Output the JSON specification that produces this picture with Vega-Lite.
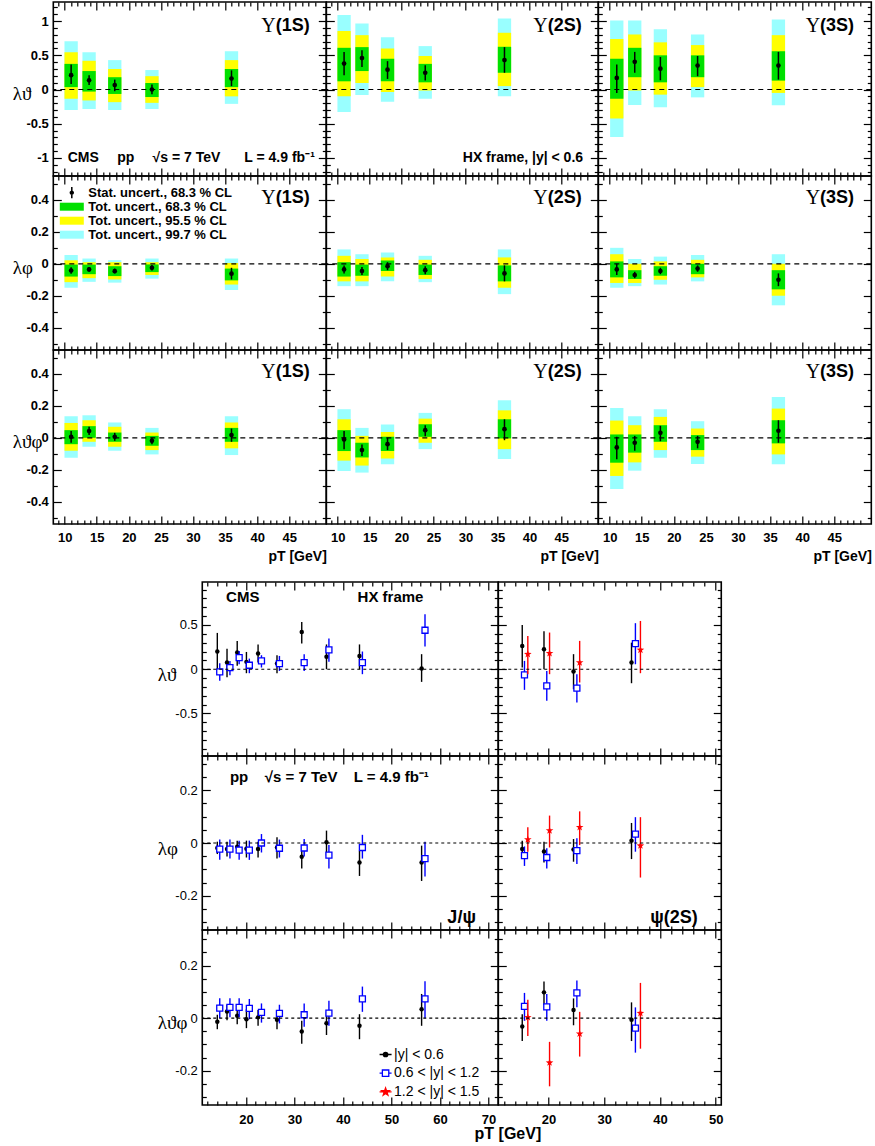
{
"$schema": "https://vega.github.io/schema/vega-lite/v6.json",
"background": "white",
"autosize": {"type": "pad"},
"padding": {"left": 11, "top": 0, "right": 4, "bottom": 5},
"config": {
  "view": {"stroke": "#000", "strokeWidth": 1.6},
  "axis": {"domain": false, "grid": false, "tickColor": "#000", "tickWidth": 1.2, "labelFont": "Liberation Sans", "labelFontWeight": "bold", "labelFontSize": 13, "labelColor": "#000", "titleFont": "Liberation Serif", "titleFontWeight": "normal", "titleFontSize": 19, "titleColor": "#000", "minExtent": 0, "labelFlush": false, "labelOverlap": false, "labelBound": false, "titleAngle": 0},
  "text": {"font": "Liberation Sans", "fontWeight": "bold", "color": "#000"}
},
"datasets": {
  "u1th": [
    {"pt":11,"v":0.21,"slo":0.08,"shi":0.365,"glo":0.035,"ghi":0.375,"ylo":-0.135,"yhi":0.545,"clo":-0.3,"chi":0.705},
    {"pt":13.8,"v":0.135,"slo":0.065,"shi":0.21,"glo":-0.03,"ghi":0.27,"ylo":-0.16,"yhi":0.42,"clo":-0.285,"chi":0.545},
    {"pt":17.8,"v":0.065,"slo":-0.025,"shi":0.145,"glo":-0.065,"ghi":0.18,"ylo":-0.185,"yhi":0.3,"clo":-0.3,"chi":0.43},
    {"pt":23.6,"v":0.0,"slo":-0.07,"shi":0.075,"glo":-0.11,"ghi":0.095,"ylo":-0.195,"yhi":0.195,"clo":-0.285,"chi":0.285},
    {"pt":36,"v":0.16,"slo":0.05,"shi":0.28,"glo":0.035,"ghi":0.3,"ylo":-0.1,"yhi":0.43,"clo":-0.21,"chi":0.56}
  ],
  "u2th": [
    {"pt":11,"v":0.38,"slo":0.21,"shi":0.55,"glo":0.12,"ghi":0.61,"ylo":-0.1,"yhi":0.855,"clo":-0.33,"chi":1.09},
    {"pt":13.8,"v":0.46,"slo":0.33,"shi":0.575,"glo":0.27,"ghi":0.62,"ylo":0.095,"yhi":0.795,"clo":-0.08,"chi":0.965},
    {"pt":17.8,"v":0.29,"slo":0.155,"shi":0.415,"glo":0.12,"ghi":0.45,"ylo":-0.035,"yhi":0.6,"clo":-0.18,"chi":0.765},
    {"pt":23.7,"v":0.245,"slo":0.13,"shi":0.355,"glo":0.105,"ghi":0.375,"ylo":-0.015,"yhi":0.49,"clo":-0.135,"chi":0.635},
    {"pt":36.1,"v":0.43,"slo":0.245,"shi":0.62,"glo":0.245,"ghi":0.625,"ylo":0.05,"yhi":0.83,"clo":-0.1,"chi":1.04}
  ],
  "u3th": [
    {"pt":11.1,"v":0.17,"slo":-0.05,"shi":0.365,"glo":-0.135,"ghi":0.45,"ylo":-0.425,"yhi":0.74,"clo":-0.695,"chi":1.01},
    {"pt":13.9,"v":0.405,"slo":0.245,"shi":0.55,"glo":0.18,"ghi":0.61,"ylo":-0.015,"yhi":0.805,"clo":-0.225,"chi":1.01},
    {"pt":17.9,"v":0.305,"slo":0.135,"shi":0.475,"glo":0.105,"ghi":0.5,"ylo":-0.075,"yhi":0.69,"clo":-0.26,"chi":0.88},
    {"pt":23.7,"v":0.35,"slo":0.195,"shi":0.49,"glo":0.18,"ghi":0.5,"ylo":0.035,"yhi":0.65,"clo":-0.115,"chi":0.805},
    {"pt":36.3,"v":0.35,"slo":0.145,"shi":0.55,"glo":0.13,"ghi":0.56,"ylo":-0.05,"yhi":0.795,"clo":-0.23,"chi":1.025}
  ],
  "u1ph": [
    {"pt":11,"v":-0.042,"slo":-0.062,"shi":-0.022,"glo":-0.08,"ghi":-0.005,"ylo":-0.115,"yhi":0.022,"clo":-0.15,"chi":0.055},
    {"pt":13.8,"v":-0.035,"slo":-0.05,"shi":-0.02,"glo":-0.065,"ghi":-0.005,"ylo":-0.09,"yhi":0.01,"clo":-0.113,"chi":0.033},
    {"pt":17.8,"v":-0.046,"slo":-0.06,"shi":-0.03,"glo":-0.077,"ghi":-0.015,"ylo":-0.098,"yhi":0.01,"clo":-0.118,"chi":0.023},
    {"pt":23.6,"v":-0.025,"slo":-0.042,"shi":-0.008,"glo":-0.052,"ghi":-0.004,"ylo":-0.07,"yhi":0.01,"clo":-0.093,"chi":0.033},
    {"pt":36,"v":-0.062,"slo":-0.098,"shi":-0.025,"glo":-0.104,"ghi":-0.03,"ylo":-0.13,"yhi":0.005,"clo":-0.164,"chi":0.033}
  ],
  "u2ph": [
    {"pt":11,"v":-0.035,"slo":-0.06,"shi":-0.01,"glo":-0.08,"ghi":0.01,"ylo":-0.11,"yhi":0.05,"clo":-0.14,"chi":0.09},
    {"pt":13.8,"v":-0.045,"slo":-0.07,"shi":-0.02,"glo":-0.075,"ghi":-0.005,"ylo":-0.11,"yhi":0.03,"clo":-0.14,"chi":0.06},
    {"pt":17.8,"v":-0.015,"slo":-0.04,"shi":0.01,"glo":-0.045,"ghi":0.02,"ylo":-0.08,"yhi":0.04,"clo":-0.11,"chi":0.07},
    {"pt":23.7,"v":-0.04,"slo":-0.065,"shi":-0.015,"glo":-0.07,"ghi":-0.005,"ylo":-0.095,"yhi":0.025,"clo":-0.115,"chi":0.05},
    {"pt":36.1,"v":-0.06,"slo":-0.11,"shi":-0.01,"glo":-0.11,"ghi":-0.01,"ylo":-0.15,"yhi":0.04,"clo":-0.19,"chi":0.09}
  ],
  "u3ph": [
    {"pt":11.1,"v":-0.035,"slo":-0.07,"shi":0.0,"glo":-0.085,"ghi":0.015,"ylo":-0.12,"yhi":0.06,"clo":-0.15,"chi":0.1},
    {"pt":13.9,"v":-0.07,"slo":-0.09,"shi":-0.05,"glo":-0.095,"ghi":-0.04,"ylo":-0.12,"yhi":0.0,"clo":-0.14,"chi":0.03},
    {"pt":17.9,"v":-0.045,"slo":-0.065,"shi":-0.025,"glo":-0.075,"ghi":-0.015,"ylo":-0.1,"yhi":0.015,"clo":-0.13,"chi":0.045},
    {"pt":23.7,"v":-0.03,"slo":-0.05,"shi":-0.01,"glo":-0.065,"ghi":0.0,"ylo":-0.085,"yhi":0.025,"clo":-0.11,"chi":0.055},
    {"pt":36.3,"v":-0.1,"slo":-0.14,"shi":-0.06,"glo":-0.16,"ghi":-0.04,"ylo":-0.2,"yhi":0.0,"clo":-0.26,"chi":0.06}
  ],
  "u1tp": [
    {"pt":11,"v":0.006,"slo":-0.031,"shi":0.042,"glo":-0.04,"ghi":0.048,"ylo":-0.081,"yhi":0.093,"clo":-0.125,"chi":0.135},
    {"pt":13.8,"v":0.042,"slo":0.017,"shi":0.069,"glo":0.0,"ghi":0.073,"ylo":-0.025,"yhi":0.11,"clo":-0.056,"chi":0.141},
    {"pt":17.8,"v":0.006,"slo":-0.019,"shi":0.031,"glo":-0.025,"ghi":0.033,"ylo":-0.056,"yhi":0.069,"clo":-0.081,"chi":0.096},
    {"pt":23.6,"v":-0.019,"slo":-0.04,"shi":0.0,"glo":-0.05,"ghi":0.012,"ylo":-0.077,"yhi":0.033,"clo":-0.104,"chi":0.062},
    {"pt":36,"v":0.017,"slo":-0.025,"shi":0.058,"glo":-0.025,"ghi":0.062,"ylo":-0.066,"yhi":0.096,"clo":-0.108,"chi":0.135}
  ],
  "u2tp": [
    {"pt":11,"v":-0.01,"slo":-0.071,"shi":0.042,"glo":-0.083,"ghi":0.048,"ylo":-0.143,"yhi":0.116,"clo":-0.208,"chi":0.179},
    {"pt":13.8,"v":-0.077,"slo":-0.114,"shi":-0.042,"glo":-0.123,"ghi":-0.031,"ylo":-0.174,"yhi":0.012,"clo":-0.218,"chi":0.062},
    {"pt":17.8,"v":-0.04,"slo":-0.077,"shi":0.0,"glo":-0.083,"ghi":0.006,"ylo":-0.129,"yhi":0.037,"clo":-0.166,"chi":0.083},
    {"pt":23.7,"v":0.048,"slo":0.01,"shi":0.079,"glo":0.006,"ghi":0.085,"ylo":-0.031,"yhi":0.12,"clo":-0.071,"chi":0.156},
    {"pt":36.1,"v":0.054,"slo":-0.015,"shi":0.116,"glo":-0.004,"ghi":0.116,"ylo":-0.071,"yhi":0.172,"clo":-0.133,"chi":0.235}
  ],
  "u3tp": [
    {"pt":11.1,"v":-0.06,"slo":-0.135,"shi":0.006,"glo":-0.156,"ghi":0.021,"ylo":-0.239,"yhi":0.108,"clo":-0.32,"chi":0.187},
    {"pt":13.9,"v":-0.031,"slo":-0.081,"shi":0.012,"glo":-0.093,"ghi":0.021,"ylo":-0.154,"yhi":0.079,"clo":-0.206,"chi":0.135},
    {"pt":17.9,"v":0.031,"slo":-0.021,"shi":0.075,"glo":-0.025,"ghi":0.079,"ylo":-0.077,"yhi":0.131,"clo":-0.125,"chi":0.179},
    {"pt":23.7,"v":-0.025,"slo":-0.066,"shi":0.012,"glo":-0.077,"ghi":0.017,"ylo":-0.118,"yhi":0.058,"clo":-0.164,"chi":0.104},
    {"pt":36.3,"v":0.044,"slo":-0.031,"shi":0.11,"glo":-0.035,"ghi":0.11,"ylo":-0.104,"yhi":0.183,"clo":-0.166,"chi":0.255}
  ],
  "jth": [
    {"b":"0-0.6","pt":14.1,"v":0.2,"lo":-0.04,"hi":0.41},
    {"b":"0-0.6","pt":16.1,"v":0.075,"lo":-0.09,"hi":0.23},
    {"b":"0-0.6","pt":18.2,"v":0.19,"lo":0.04,"hi":0.32},
    {"b":"0-0.6","pt":20.1,"v":0.083,"lo":-0.045,"hi":0.195},
    {"b":"0-0.6","pt":22.5,"v":0.177,"lo":0.075,"hi":0.28},
    {"b":"0-0.6","pt":26.4,"v":0.064,"lo":-0.045,"hi":0.158},
    {"b":"0-0.6","pt":31.5,"v":0.42,"lo":0.29,"hi":0.534},
    {"b":"0-0.6","pt":36.6,"v":0.14,"lo":0.0,"hi":0.28},
    {"b":"0-0.6","pt":43.4,"v":0.15,"lo":0.0,"hi":0.28},
    {"b":"0-0.6","pt":56.2,"v":0.008,"lo":-0.143,"hi":0.17},
    {"b":"0.6-1.2","pt":14.6,"v":-0.03,"lo":-0.13,"hi":0.068},
    {"b":"0.6-1.2","pt":16.7,"v":0.019,"lo":-0.068,"hi":0.094},
    {"b":"0.6-1.2","pt":18.6,"v":0.13,"lo":0.056,"hi":0.207},
    {"b":"0.6-1.2","pt":20.7,"v":0.045,"lo":-0.045,"hi":0.12},
    {"b":"0.6-1.2","pt":23.2,"v":0.094,"lo":0.019,"hi":0.158},
    {"b":"0.6-1.2","pt":26.9,"v":0.064,"lo":-0.019,"hi":0.15},
    {"b":"0.6-1.2","pt":32.0,"v":0.075,"lo":-0.019,"hi":0.17},
    {"b":"0.6-1.2","pt":37.1,"v":0.218,"lo":0.083,"hi":0.346},
    {"b":"0.6-1.2","pt":44.0,"v":0.075,"lo":-0.056,"hi":0.2},
    {"b":"0.6-1.2","pt":56.9,"v":0.44,"lo":0.256,"hi":0.62}
  ],
  "jph": [
    {"b":"0-0.6","pt":14.1,"v":-0.019,"lo":-0.042,"hi":0.005},
    {"b":"0-0.6","pt":16.1,"v":-0.023,"lo":-0.051,"hi":0.005},
    {"b":"0-0.6","pt":18.2,"v":-0.014,"lo":-0.036,"hi":0.009},
    {"b":"0-0.6","pt":20.1,"v":-0.022,"lo":-0.055,"hi":0.009},
    {"b":"0-0.6","pt":22.5,"v":-0.023,"lo":-0.055,"hi":0.005},
    {"b":"0-0.6","pt":26.4,"v":-0.017,"lo":-0.059,"hi":0.022},
    {"b":"0-0.6","pt":31.5,"v":-0.052,"lo":-0.097,"hi":-0.017},
    {"b":"0-0.6","pt":36.6,"v":0.003,"lo":-0.048,"hi":0.047},
    {"b":"0-0.6","pt":43.4,"v":-0.074,"lo":-0.125,"hi":-0.029},
    {"b":"0-0.6","pt":56.2,"v":-0.074,"lo":-0.144,"hi":-0.01},
    {"b":"0.6-1.2","pt":14.6,"v":-0.023,"lo":-0.064,"hi":0.013},
    {"b":"0.6-1.2","pt":16.7,"v":-0.023,"lo":-0.059,"hi":0.013},
    {"b":"0.6-1.2","pt":18.6,"v":-0.027,"lo":-0.064,"hi":0.009},
    {"b":"0.6-1.2","pt":20.7,"v":-0.027,"lo":-0.064,"hi":0.009},
    {"b":"0.6-1.2","pt":23.2,"v":0.0,"lo":-0.036,"hi":0.034},
    {"b":"0.6-1.2","pt":26.9,"v":-0.02,"lo":-0.055,"hi":0.013},
    {"b":"0.6-1.2","pt":32.0,"v":-0.019,"lo":-0.051,"hi":0.015},
    {"b":"0.6-1.2","pt":37.1,"v":-0.046,"lo":-0.097,"hi":-0.008},
    {"b":"0.6-1.2","pt":44.0,"v":-0.017,"lo":-0.059,"hi":0.031},
    {"b":"0.6-1.2","pt":56.9,"v":-0.059,"lo":-0.127,"hi":0.005}
  ],
  "jtp": [
    {"b":"0-0.6","pt":14.1,"v":-0.014,"lo":-0.042,"hi":0.013},
    {"b":"0-0.6","pt":16.1,"v":0.025,"lo":-0.008,"hi":0.051},
    {"b":"0-0.6","pt":18.2,"v":0.009,"lo":-0.023,"hi":0.041},
    {"b":"0-0.6","pt":20.1,"v":-0.004,"lo":-0.038,"hi":0.034},
    {"b":"0-0.6","pt":22.5,"v":0.003,"lo":-0.029,"hi":0.031},
    {"b":"0-0.6","pt":26.4,"v":-0.006,"lo":-0.042,"hi":0.022},
    {"b":"0-0.6","pt":31.5,"v":-0.051,"lo":-0.097,"hi":-0.01},
    {"b":"0-0.6","pt":36.6,"v":-0.019,"lo":-0.064,"hi":0.022},
    {"b":"0-0.6","pt":43.4,"v":-0.029,"lo":-0.08,"hi":0.015},
    {"b":"0-0.6","pt":56.2,"v":0.034,"lo":-0.029,"hi":0.092},
    {"b":"0.6-1.2","pt":14.6,"v":0.038,"lo":0.0,"hi":0.076},
    {"b":"0.6-1.2","pt":16.7,"v":0.041,"lo":0.003,"hi":0.076},
    {"b":"0.6-1.2","pt":18.6,"v":0.041,"lo":0.003,"hi":0.076},
    {"b":"0.6-1.2","pt":20.7,"v":0.037,"lo":-0.004,"hi":0.073},
    {"b":"0.6-1.2","pt":23.2,"v":0.022,"lo":-0.017,"hi":0.056},
    {"b":"0.6-1.2","pt":26.9,"v":0.018,"lo":-0.02,"hi":0.051},
    {"b":"0.6-1.2","pt":32.0,"v":0.013,"lo":-0.033,"hi":0.056},
    {"b":"0.6-1.2","pt":37.1,"v":0.019,"lo":-0.029,"hi":0.066},
    {"b":"0.6-1.2","pt":44.0,"v":0.073,"lo":0.024,"hi":0.12},
    {"b":"0.6-1.2","pt":56.9,"v":0.073,"lo":0.0,"hi":0.14}
  ],
  "pth": [
    {"b":"0-0.6","pt":15.3,"v":0.263,"lo":0.019,"hi":0.5},
    {"b":"0-0.6","pt":19.2,"v":0.226,"lo":0.0,"hi":0.43},
    {"b":"0-0.6","pt":24.5,"v":-0.026,"lo":-0.226,"hi":0.17},
    {"b":"0-0.6","pt":34.9,"v":0.075,"lo":-0.158,"hi":0.3},
    {"b":"0.6-1.2","pt":15.7,"v":-0.064,"lo":-0.233,"hi":0.094},
    {"b":"0.6-1.2","pt":19.7,"v":-0.188,"lo":-0.357,"hi":-0.019},
    {"b":"0.6-1.2","pt":25.1,"v":-0.214,"lo":-0.376,"hi":-0.056},
    {"b":"0.6-1.2","pt":35.6,"v":0.29,"lo":0.056,"hi":0.52},
    {"b":"1.2-1.5","pt":16.3,"v":0.17,"lo":-0.056,"hi":0.376},
    {"b":"1.2-1.5","pt":20.2,"v":0.18,"lo":-0.056,"hi":0.414},
    {"b":"1.2-1.5","pt":25.6,"v":0.075,"lo":-0.15,"hi":0.32},
    {"b":"1.2-1.5","pt":36.5,"v":0.218,"lo":-0.045,"hi":0.545}
  ],
  "pph": [
    {"b":"0-0.6","pt":15.3,"v":-0.023,"lo":-0.048,"hi":0.009},
    {"b":"0-0.6","pt":19.2,"v":-0.032,"lo":-0.074,"hi":0.005},
    {"b":"0-0.6","pt":24.5,"v":-0.025,"lo":-0.071,"hi":0.015},
    {"b":"0-0.6","pt":34.9,"v":0.009,"lo":-0.061,"hi":0.076},
    {"b":"0.6-1.2","pt":15.7,"v":-0.048,"lo":-0.087,"hi":-0.013},
    {"b":"0.6-1.2","pt":19.7,"v":-0.055,"lo":-0.097,"hi":-0.02},
    {"b":"0.6-1.2","pt":25.1,"v":-0.029,"lo":-0.08,"hi":0.018},
    {"b":"0.6-1.2","pt":35.6,"v":0.034,"lo":-0.033,"hi":0.098},
    {"b":"1.2-1.5","pt":16.3,"v":0.013,"lo":-0.033,"hi":0.06},
    {"b":"1.2-1.5","pt":20.2,"v":0.047,"lo":-0.017,"hi":0.104},
    {"b":"1.2-1.5","pt":25.6,"v":0.06,"lo":-0.008,"hi":0.12},
    {"b":"1.2-1.5","pt":36.5,"v":-0.01,"lo":-0.131,"hi":0.098}
  ],
  "ptp": [
    {"b":"0-0.6","pt":15.3,"v":-0.032,"lo":-0.087,"hi":0.015},
    {"b":"0-0.6","pt":19.2,"v":0.098,"lo":0.05,"hi":0.139},
    {"b":"0-0.6","pt":24.5,"v":0.031,"lo":-0.027,"hi":0.075},
    {"b":"0-0.6","pt":34.9,"v":-0.006,"lo":-0.087,"hi":0.06},
    {"b":"0.6-1.2","pt":15.7,"v":0.045,"lo":-0.01,"hi":0.096},
    {"b":"0.6-1.2","pt":19.7,"v":0.043,"lo":-0.01,"hi":0.092},
    {"b":"0.6-1.2","pt":25.1,"v":0.096,"lo":0.041,"hi":0.143},
    {"b":"0.6-1.2","pt":35.6,"v":-0.038,"lo":-0.131,"hi":0.041},
    {"b":"1.2-1.5","pt":16.3,"v":0.003,"lo":-0.068,"hi":0.07},
    {"b":"1.2-1.5","pt":20.2,"v":-0.169,"lo":-0.259,"hi":-0.09},
    {"b":"1.2-1.5","pt":25.6,"v":-0.059,"lo":-0.146,"hi":0.024},
    {"b":"1.2-1.5","pt":36.5,"v":0.019,"lo":-0.116,"hi":0.134}
  ]
},
"spacing": 16,
"center": true,
"resolve": {"scale": {"fill": "independent", "stroke": "independent", "shape": "independent"}},
"vconcat": [
{
"columns": 3, "spacing": 0, "bounds": "flush",
"resolve": {"scale": {"fill": "independent", "stroke": "independent", "shape": "independent"}},
"concat": [
  {
   "width": 273, "height": 174,
   "resolve": {"axis": {"x": "independent", "y": "independent"}},
   "layer": [
    {"data": {"name": "u1th"}, "mark": {"type": "bar", "width": 13.3, "color": "#99ffff"},
     "encoding": {
      "x": {"field": "pt", "type": "quantitative", "scale": {"domain": [9, 50], "nice": false, "zero": false}, "axis": {"orient": "bottom", "values": [10,15,20,25,30,35,40,45], "tickSize": -8, "labels": false, "title": null}},
      "y": {"field": "clo", "type": "quantitative", "scale": {"domain": [-1.265, 1.28], "nice": false, "zero": false}, "axis": {"orient": "left", "values": [-1,-0.5,0,0.5,1], "tickSize": -8, "labelPadding": 13, "labelExpr": "'' + datum.value", "title": "λϑ", "titleX": -41, "titleY": 91, "titleAlign": "left", "titleBaseline": "middle"}},
      "y2": {"field": "chi"}}},
    {"data": {"name": "u1th"}, "mark": {"type": "bar", "width": 13.3, "color": "#ffff00"},
     "encoding": {
      "x": {"field": "pt", "type": "quantitative", "axis": {"orient": "bottom", "values": [9,11,12,13,14,16,17,18,19,21,22,23,24,26,27,28,29,31,32,33,34,36,37,38,39,41,42,43,44,46,47,48,49], "tickSize": -4, "labels": false, "title": null}},
      "y": {"field": "ylo", "type": "quantitative", "axis": {"orient": "left", "values": [-1.2,-1.1,-0.9,-0.8,-0.7,-0.6,-0.4,-0.3,-0.2,-0.1,0.1,0.2,0.3,0.4,0.6,0.7,0.8,0.9,1.1,1.2], "tickSize": -4, "labels": false, "title": null}},
      "y2": {"field": "yhi"}}},
    {"data": {"name": "u1th"}, "mark": {"type": "bar", "width": 13.3, "color": "#00e000"},
     "encoding": {
      "x": {"field": "pt", "type": "quantitative", "axis": {"orient": "top", "values": [10,15,20,25,30,35,40,45], "tickSize": -8, "labels": false, "title": null}},
      "y": {"field": "glo", "type": "quantitative", "axis": {"orient": "right", "values": [-1,-0.5,0,0.5,1], "tickSize": -8, "labels": false, "title": null}},
      "y2": {"field": "ghi"}}},
    {"data": {"name": "u1th"}, "mark": {"type": "rule", "color": "#000", "strokeWidth": 1.5},
     "encoding": {
      "x": {"field": "pt", "type": "quantitative", "axis": {"orient": "top", "values": [9,11,12,13,14,16,17,18,19,21,22,23,24,26,27,28,29,31,32,33,34,36,37,38,39,41,42,43,44,46,47,48,49], "tickSize": -4, "labels": false, "title": null}},
      "y": {"field": "slo", "type": "quantitative", "axis": {"orient": "right", "values": [-1.2,-1.1,-0.9,-0.8,-0.7,-0.6,-0.4,-0.3,-0.2,-0.1,0.1,0.2,0.3,0.4,0.6,0.7,0.8,0.9,1.1,1.2], "tickSize": -4, "labels": false, "title": null}},
      "y2": {"field": "shi"}}},
    {"data": {"name": "u1th"}, "mark": {"type": "point", "shape": "circle", "filled": true, "color": "#000", "size": 22, "opacity": 1},
     "encoding": {"x": {"field": "pt", "type": "quantitative", "axis": null}, "y": {"field": "v", "type": "quantitative", "axis": null}}},
    {"data": {"values": [{}]}, "mark": {"type": "rule", "color": "#000", "strokeWidth": 1.2, "strokeDash": [5, 4]},
     "encoding": {"y": {"datum": 0, "type": "quantitative", "axis": null}}},
    {"data": {"values": [{}]}, "mark": {"type": "text", "text": "(1S)", "align": "right", "baseline": "middle", "fontSize": 18},
     "encoding": {"x": {"datum": 48.2, "type": "quantitative", "axis": null}, "y": {"datum": 0.93, "type": "quantitative", "axis": null}}},
    {"data": {"values": [{}]}, "mark": {"type": "text", "text": "Υ", "align": "right", "baseline": "middle", "fontSize": 20, "font": "Liberation Serif", "fontWeight": "normal", "dx": -34},
     "encoding": {"x": {"datum": 48.2, "type": "quantitative", "axis": null}, "y": {"datum": 0.93, "type": "quantitative", "axis": null}}},
    {"data": {"values": [{}]}, "mark": {"type": "text", "text": "CMS", "align": "left", "baseline": "middle", "fontSize": 14},
     "encoding": {"x": {"datum": 10.46, "type": "quantitative", "axis": null}, "y": {"datum": -1.0, "type": "quantitative", "axis": null}}},
    {"data": {"values": [{}]}, "mark": {"type": "text", "text": "pp", "align": "left", "baseline": "middle", "fontSize": 14},
     "encoding": {"x": {"datum": 18.2, "type": "quantitative", "axis": null}, "y": {"datum": -1.0, "type": "quantitative", "axis": null}}},
    {"data": {"values": [{}]}, "mark": {"type": "text", "text": "√s = 7 TeV", "align": "left", "baseline": "middle", "fontSize": 14},
     "encoding": {"x": {"datum": 23.7, "type": "quantitative", "axis": null}, "y": {"datum": -1.0, "type": "quantitative", "axis": null}}},
    {"data": {"values": [{}]}, "mark": {"type": "text", "text": "L = 4.9 fb⁻¹", "align": "left", "baseline": "middle", "fontSize": 14},
     "encoding": {"x": {"datum": 38.0, "type": "quantitative", "axis": null}, "y": {"datum": -1.0, "type": "quantitative", "axis": null}}}
   ]
  },
  {
   "width": 272, "height": 174,
   "resolve": {"axis": {"x": "independent", "y": "independent"}},
   "layer": [
    {"data": {"name": "u2th"}, "mark": {"type": "bar", "width": 13.3, "color": "#99ffff"},
     "encoding": {
      "x": {"field": "pt", "type": "quantitative", "scale": {"domain": [9, 50], "nice": false, "zero": false}, "axis": {"orient": "bottom", "values": [10,15,20,25,30,35,40,45], "tickSize": -8, "labels": false, "title": null}},
      "y": {"field": "clo", "type": "quantitative", "scale": {"domain": [-1.265, 1.28], "nice": false, "zero": false}, "axis": {"orient": "left", "values": [-1,-0.5,0,0.5,1], "tickSize": -8, "labels": false, "title": null}},
      "y2": {"field": "chi"}}},
    {"data": {"name": "u2th"}, "mark": {"type": "bar", "width": 13.3, "color": "#ffff00"},
     "encoding": {
      "x": {"field": "pt", "type": "quantitative", "axis": {"orient": "bottom", "values": [9,11,12,13,14,16,17,18,19,21,22,23,24,26,27,28,29,31,32,33,34,36,37,38,39,41,42,43,44,46,47,48,49], "tickSize": -4, "labels": false, "title": null}},
      "y": {"field": "ylo", "type": "quantitative", "axis": {"orient": "left", "values": [-1.2,-1.1,-0.9,-0.8,-0.7,-0.6,-0.4,-0.3,-0.2,-0.1,0.1,0.2,0.3,0.4,0.6,0.7,0.8,0.9,1.1,1.2], "tickSize": -4, "labels": false, "title": null}},
      "y2": {"field": "yhi"}}},
    {"data": {"name": "u2th"}, "mark": {"type": "bar", "width": 13.3, "color": "#00e000"},
     "encoding": {
      "x": {"field": "pt", "type": "quantitative", "axis": {"orient": "top", "values": [10,15,20,25,30,35,40,45], "tickSize": -8, "labels": false, "title": null}},
      "y": {"field": "glo", "type": "quantitative", "axis": {"orient": "right", "values": [-1,-0.5,0,0.5,1], "tickSize": -8, "labels": false, "title": null}},
      "y2": {"field": "ghi"}}},
    {"data": {"name": "u2th"}, "mark": {"type": "rule", "color": "#000", "strokeWidth": 1.5},
     "encoding": {
      "x": {"field": "pt", "type": "quantitative", "axis": {"orient": "top", "values": [9,11,12,13,14,16,17,18,19,21,22,23,24,26,27,28,29,31,32,33,34,36,37,38,39,41,42,43,44,46,47,48,49], "tickSize": -4, "labels": false, "title": null}},
      "y": {"field": "slo", "type": "quantitative", "axis": {"orient": "right", "values": [-1.2,-1.1,-0.9,-0.8,-0.7,-0.6,-0.4,-0.3,-0.2,-0.1,0.1,0.2,0.3,0.4,0.6,0.7,0.8,0.9,1.1,1.2], "tickSize": -4, "labels": false, "title": null}},
      "y2": {"field": "shi"}}},
    {"data": {"name": "u2th"}, "mark": {"type": "point", "shape": "circle", "filled": true, "color": "#000", "size": 22, "opacity": 1},
     "encoding": {"x": {"field": "pt", "type": "quantitative", "axis": null}, "y": {"field": "v", "type": "quantitative", "axis": null}}},
    {"data": {"values": [{}]}, "mark": {"type": "rule", "color": "#000", "strokeWidth": 1.2, "strokeDash": [5, 4]},
     "encoding": {"y": {"datum": 0, "type": "quantitative", "axis": null}}},
    {"data": {"values": [{}]}, "mark": {"type": "text", "text": "(2S)", "align": "right", "baseline": "middle", "fontSize": 18},
     "encoding": {"x": {"datum": 48.2, "type": "quantitative", "axis": null}, "y": {"datum": 0.93, "type": "quantitative", "axis": null}}},
    {"data": {"values": [{}]}, "mark": {"type": "text", "text": "Υ", "align": "right", "baseline": "middle", "fontSize": 20, "font": "Liberation Serif", "fontWeight": "normal", "dx": -34},
     "encoding": {"x": {"datum": 48.2, "type": "quantitative", "axis": null}, "y": {"datum": 0.93, "type": "quantitative", "axis": null}}},
    {"data": {"values": [{}]}, "mark": {"type": "text", "text": "HX frame, |y| < 0.6", "align": "right", "baseline": "middle", "fontSize": 14},
     "encoding": {"x": {"datum": 48.4, "type": "quantitative", "axis": null}, "y": {"datum": -1.0, "type": "quantitative", "axis": null}}}
   ]
  },
  {
   "width": 273, "height": 174,
   "resolve": {"axis": {"x": "independent", "y": "independent"}},
   "layer": [
    {"data": {"name": "u3th"}, "mark": {"type": "bar", "width": 13.3, "color": "#99ffff"},
     "encoding": {
      "x": {"field": "pt", "type": "quantitative", "scale": {"domain": [9, 50], "nice": false, "zero": false}, "axis": {"orient": "bottom", "values": [10,15,20,25,30,35,40,45], "tickSize": -8, "labels": false, "title": null}},
      "y": {"field": "clo", "type": "quantitative", "scale": {"domain": [-1.265, 1.28], "nice": false, "zero": false}, "axis": {"orient": "left", "values": [-1,-0.5,0,0.5,1], "tickSize": -8, "labels": false, "title": null}},
      "y2": {"field": "chi"}}},
    {"data": {"name": "u3th"}, "mark": {"type": "bar", "width": 13.3, "color": "#ffff00"},
     "encoding": {
      "x": {"field": "pt", "type": "quantitative", "axis": {"orient": "bottom", "values": [9,11,12,13,14,16,17,18,19,21,22,23,24,26,27,28,29,31,32,33,34,36,37,38,39,41,42,43,44,46,47,48,49], "tickSize": -4, "labels": false, "title": null}},
      "y": {"field": "ylo", "type": "quantitative", "axis": {"orient": "left", "values": [-1.2,-1.1,-0.9,-0.8,-0.7,-0.6,-0.4,-0.3,-0.2,-0.1,0.1,0.2,0.3,0.4,0.6,0.7,0.8,0.9,1.1,1.2], "tickSize": -4, "labels": false, "title": null}},
      "y2": {"field": "yhi"}}},
    {"data": {"name": "u3th"}, "mark": {"type": "bar", "width": 13.3, "color": "#00e000"},
     "encoding": {
      "x": {"field": "pt", "type": "quantitative", "axis": {"orient": "top", "values": [10,15,20,25,30,35,40,45], "tickSize": -8, "labels": false, "title": null}},
      "y": {"field": "glo", "type": "quantitative", "axis": {"orient": "right", "values": [-1,-0.5,0,0.5,1], "tickSize": -8, "labels": false, "title": null}},
      "y2": {"field": "ghi"}}},
    {"data": {"name": "u3th"}, "mark": {"type": "rule", "color": "#000", "strokeWidth": 1.5},
     "encoding": {
      "x": {"field": "pt", "type": "quantitative", "axis": {"orient": "top", "values": [9,11,12,13,14,16,17,18,19,21,22,23,24,26,27,28,29,31,32,33,34,36,37,38,39,41,42,43,44,46,47,48,49], "tickSize": -4, "labels": false, "title": null}},
      "y": {"field": "slo", "type": "quantitative", "axis": {"orient": "right", "values": [-1.2,-1.1,-0.9,-0.8,-0.7,-0.6,-0.4,-0.3,-0.2,-0.1,0.1,0.2,0.3,0.4,0.6,0.7,0.8,0.9,1.1,1.2], "tickSize": -4, "labels": false, "title": null}},
      "y2": {"field": "shi"}}},
    {"data": {"name": "u3th"}, "mark": {"type": "point", "shape": "circle", "filled": true, "color": "#000", "size": 22, "opacity": 1},
     "encoding": {"x": {"field": "pt", "type": "quantitative", "axis": null}, "y": {"field": "v", "type": "quantitative", "axis": null}}},
    {"data": {"values": [{}]}, "mark": {"type": "rule", "color": "#000", "strokeWidth": 1.2, "strokeDash": [5, 4]},
     "encoding": {"y": {"datum": 0, "type": "quantitative", "axis": null}}},
    {"data": {"values": [{}]}, "mark": {"type": "text", "text": "(3S)", "align": "right", "baseline": "middle", "fontSize": 18},
     "encoding": {"x": {"datum": 48.1, "type": "quantitative", "axis": null}, "y": {"datum": 0.93, "type": "quantitative", "axis": null}}},
    {"data": {"values": [{}]}, "mark": {"type": "text", "text": "Υ", "align": "right", "baseline": "middle", "fontSize": 20, "font": "Liberation Serif", "fontWeight": "normal", "dx": -34},
     "encoding": {"x": {"datum": 48.1, "type": "quantitative", "axis": null}, "y": {"datum": 0.93, "type": "quantitative", "axis": null}}}
   ]
  },
  {
   "width": 273, "height": 174,
   "resolve": {"axis": {"x": "independent", "y": "independent"}},
   "layer": [
    {"data": {"name": "u1ph"}, "mark": {"type": "bar", "width": 13.3, "color": "#99ffff"},
     "encoding": {
      "x": {"field": "pt", "type": "quantitative", "scale": {"domain": [9, 50], "nice": false, "zero": false}, "axis": {"orient": "bottom", "values": [10,15,20,25,30,35,40,45], "tickSize": -8, "labels": false, "title": null}},
      "y": {"field": "clo", "type": "quantitative", "scale": {"domain": [-0.54, 0.55], "nice": false, "zero": false}, "axis": {"orient": "left", "values": [-0.4,-0.2,0,0.2,0.4], "tickSize": -8, "labelPadding": 13, "labelExpr": "'' + datum.value", "title": "λφ", "titleX": -41, "titleY": 91, "titleAlign": "left", "titleBaseline": "middle"}},
      "y2": {"field": "chi"}}},
    {"data": {"name": "u1ph"}, "mark": {"type": "bar", "width": 13.3, "color": "#ffff00"},
     "encoding": {
      "x": {"field": "pt", "type": "quantitative", "axis": {"orient": "bottom", "values": [9,11,12,13,14,16,17,18,19,21,22,23,24,26,27,28,29,31,32,33,34,36,37,38,39,41,42,43,44,46,47,48,49], "tickSize": -4, "labels": false, "title": null}},
      "y": {"field": "ylo", "type": "quantitative", "axis": {"orient": "left", "values": [-0.5,-0.3,-0.1,0.1,0.3,0.5], "tickSize": -4, "labels": false, "title": null}},
      "y2": {"field": "yhi"}}},
    {"data": {"name": "u1ph"}, "mark": {"type": "bar", "width": 13.3, "color": "#00e000"},
     "encoding": {
      "x": {"field": "pt", "type": "quantitative", "axis": {"orient": "top", "values": [10,15,20,25,30,35,40,45], "tickSize": -8, "labels": false, "title": null}},
      "y": {"field": "glo", "type": "quantitative", "axis": {"orient": "right", "values": [-0.4,-0.2,0,0.2,0.4], "tickSize": -8, "labels": false, "title": null}},
      "y2": {"field": "ghi"}}},
    {"data": {"name": "u1ph"}, "mark": {"type": "rule", "color": "#000", "strokeWidth": 1.5},
     "encoding": {
      "x": {"field": "pt", "type": "quantitative", "axis": {"orient": "top", "values": [9,11,12,13,14,16,17,18,19,21,22,23,24,26,27,28,29,31,32,33,34,36,37,38,39,41,42,43,44,46,47,48,49], "tickSize": -4, "labels": false, "title": null}},
      "y": {"field": "slo", "type": "quantitative", "axis": {"orient": "right", "values": [-0.5,-0.3,-0.1,0.1,0.3,0.5], "tickSize": -4, "labels": false, "title": null}},
      "y2": {"field": "shi"}}},
    {"data": {"name": "u1ph"}, "mark": {"type": "point", "shape": "circle", "filled": true, "color": "#000", "size": 22, "opacity": 1},
     "encoding": {"x": {"field": "pt", "type": "quantitative", "axis": null}, "y": {"field": "v", "type": "quantitative", "axis": null}}},
    {"data": {"values": [{}]}, "mark": {"type": "rule", "color": "#000", "strokeWidth": 1.2, "strokeDash": [5, 4]},
     "encoding": {"y": {"datum": 0, "type": "quantitative", "axis": null}}},
    {"data": {"values": [{}]}, "mark": {"type": "text", "text": "(1S)", "align": "right", "baseline": "middle", "fontSize": 18},
     "encoding": {"x": {"datum": 48.2, "type": "quantitative", "axis": null}, "y": {"datum": 0.41, "type": "quantitative", "axis": null}}},
    {"data": {"values": [{}]}, "mark": {"type": "text", "text": "Υ", "align": "right", "baseline": "middle", "fontSize": 20, "font": "Liberation Serif", "fontWeight": "normal", "dx": -34},
     "encoding": {"x": {"datum": 48.2, "type": "quantitative", "axis": null}, "y": {"datum": 0.41, "type": "quantitative", "axis": null}}},
    {"data": {"values": []}, "mark": {"type": "point", "filled": true, "opacity": 1},
     "encoding": {
      "fill": {"field": "band", "type": "nominal",
        "scale": {"domain": ["Stat. uncert., 68.3 % CL", "Tot. uncert., 68.3 % CL", "Tot. uncert., 95.5 % CL", "Tot. uncert., 99.7 % CL"], "range": ["#000000", "#00e000", "#ffff00", "#99ffff"]},
        "legend": {"orient": "none", "legendX": 12, "legendY": 10.2, "title": null, "symbolSize": 64, "symbolStrokeWidth": 0, "labelOffset": 10, "labelFont": "Liberation Sans", "labelFontWeight": "bold", "labelFontSize": 13, "labelColor": "#000", "rowPadding": -1.8, "padding": 0, "labelLimit": 300, "symbolOpacity": 1}},
      "shape": {"field": "band", "type": "nominal",
        "scale": {"domain": ["Stat. uncert., 68.3 % CL", "Tot. uncert., 68.3 % CL", "Tot. uncert., 95.5 % CL", "Tot. uncert., 99.7 % CL"], "range": ["M-0.19,-1.4H0.19V1.4H-0.19Z M0.55,0A0.55,0.55,0,1,1,-0.55,0A0.55,0.55,0,1,1,0.55,0Z", "M-3,-1H3V1H-3Z", "M-3,-1H3V1H-3Z", "M-3,-1H3V1H-3Z"]},
        "legend": {"orient": "none", "legendX": 12, "legendY": 10.2, "title": null, "symbolSize": 64, "symbolStrokeWidth": 0, "labelOffset": 10, "labelFont": "Liberation Sans", "labelFontWeight": "bold", "labelFontSize": 13, "labelColor": "#000", "rowPadding": -1.8, "padding": 0, "labelLimit": 300, "symbolOpacity": 1}}
     }}
   ]
  },
  {
   "width": 272, "height": 174,
   "resolve": {"axis": {"x": "independent", "y": "independent"}},
   "layer": [
    {"data": {"name": "u2ph"}, "mark": {"type": "bar", "width": 13.3, "color": "#99ffff"},
     "encoding": {
      "x": {"field": "pt", "type": "quantitative", "scale": {"domain": [9, 50], "nice": false, "zero": false}, "axis": {"orient": "bottom", "values": [10,15,20,25,30,35,40,45], "tickSize": -8, "labels": false, "title": null}},
      "y": {"field": "clo", "type": "quantitative", "scale": {"domain": [-0.54, 0.55], "nice": false, "zero": false}, "axis": {"orient": "left", "values": [-0.4,-0.2,0,0.2,0.4], "tickSize": -8, "labels": false, "title": null}},
      "y2": {"field": "chi"}}},
    {"data": {"name": "u2ph"}, "mark": {"type": "bar", "width": 13.3, "color": "#ffff00"},
     "encoding": {
      "x": {"field": "pt", "type": "quantitative", "axis": {"orient": "bottom", "values": [9,11,12,13,14,16,17,18,19,21,22,23,24,26,27,28,29,31,32,33,34,36,37,38,39,41,42,43,44,46,47,48,49], "tickSize": -4, "labels": false, "title": null}},
      "y": {"field": "ylo", "type": "quantitative", "axis": {"orient": "left", "values": [-0.5,-0.3,-0.1,0.1,0.3,0.5], "tickSize": -4, "labels": false, "title": null}},
      "y2": {"field": "yhi"}}},
    {"data": {"name": "u2ph"}, "mark": {"type": "bar", "width": 13.3, "color": "#00e000"},
     "encoding": {
      "x": {"field": "pt", "type": "quantitative", "axis": {"orient": "top", "values": [10,15,20,25,30,35,40,45], "tickSize": -8, "labels": false, "title": null}},
      "y": {"field": "glo", "type": "quantitative", "axis": {"orient": "right", "values": [-0.4,-0.2,0,0.2,0.4], "tickSize": -8, "labels": false, "title": null}},
      "y2": {"field": "ghi"}}},
    {"data": {"name": "u2ph"}, "mark": {"type": "rule", "color": "#000", "strokeWidth": 1.5},
     "encoding": {
      "x": {"field": "pt", "type": "quantitative", "axis": {"orient": "top", "values": [9,11,12,13,14,16,17,18,19,21,22,23,24,26,27,28,29,31,32,33,34,36,37,38,39,41,42,43,44,46,47,48,49], "tickSize": -4, "labels": false, "title": null}},
      "y": {"field": "slo", "type": "quantitative", "axis": {"orient": "right", "values": [-0.5,-0.3,-0.1,0.1,0.3,0.5], "tickSize": -4, "labels": false, "title": null}},
      "y2": {"field": "shi"}}},
    {"data": {"name": "u2ph"}, "mark": {"type": "point", "shape": "circle", "filled": true, "color": "#000", "size": 22, "opacity": 1},
     "encoding": {"x": {"field": "pt", "type": "quantitative", "axis": null}, "y": {"field": "v", "type": "quantitative", "axis": null}}},
    {"data": {"values": [{}]}, "mark": {"type": "rule", "color": "#000", "strokeWidth": 1.2, "strokeDash": [5, 4]},
     "encoding": {"y": {"datum": 0, "type": "quantitative", "axis": null}}},
    {"data": {"values": [{}]}, "mark": {"type": "text", "text": "(2S)", "align": "right", "baseline": "middle", "fontSize": 18},
     "encoding": {"x": {"datum": 48.2, "type": "quantitative", "axis": null}, "y": {"datum": 0.41, "type": "quantitative", "axis": null}}},
    {"data": {"values": [{}]}, "mark": {"type": "text", "text": "Υ", "align": "right", "baseline": "middle", "fontSize": 20, "font": "Liberation Serif", "fontWeight": "normal", "dx": -34},
     "encoding": {"x": {"datum": 48.2, "type": "quantitative", "axis": null}, "y": {"datum": 0.41, "type": "quantitative", "axis": null}}}
   ]
  },
  {
   "width": 273, "height": 174,
   "resolve": {"axis": {"x": "independent", "y": "independent"}},
   "layer": [
    {"data": {"name": "u3ph"}, "mark": {"type": "bar", "width": 13.3, "color": "#99ffff"},
     "encoding": {
      "x": {"field": "pt", "type": "quantitative", "scale": {"domain": [9, 50], "nice": false, "zero": false}, "axis": {"orient": "bottom", "values": [10,15,20,25,30,35,40,45], "tickSize": -8, "labels": false, "title": null}},
      "y": {"field": "clo", "type": "quantitative", "scale": {"domain": [-0.54, 0.55], "nice": false, "zero": false}, "axis": {"orient": "left", "values": [-0.4,-0.2,0,0.2,0.4], "tickSize": -8, "labels": false, "title": null}},
      "y2": {"field": "chi"}}},
    {"data": {"name": "u3ph"}, "mark": {"type": "bar", "width": 13.3, "color": "#ffff00"},
     "encoding": {
      "x": {"field": "pt", "type": "quantitative", "axis": {"orient": "bottom", "values": [9,11,12,13,14,16,17,18,19,21,22,23,24,26,27,28,29,31,32,33,34,36,37,38,39,41,42,43,44,46,47,48,49], "tickSize": -4, "labels": false, "title": null}},
      "y": {"field": "ylo", "type": "quantitative", "axis": {"orient": "left", "values": [-0.5,-0.3,-0.1,0.1,0.3,0.5], "tickSize": -4, "labels": false, "title": null}},
      "y2": {"field": "yhi"}}},
    {"data": {"name": "u3ph"}, "mark": {"type": "bar", "width": 13.3, "color": "#00e000"},
     "encoding": {
      "x": {"field": "pt", "type": "quantitative", "axis": {"orient": "top", "values": [10,15,20,25,30,35,40,45], "tickSize": -8, "labels": false, "title": null}},
      "y": {"field": "glo", "type": "quantitative", "axis": {"orient": "right", "values": [-0.4,-0.2,0,0.2,0.4], "tickSize": -8, "labels": false, "title": null}},
      "y2": {"field": "ghi"}}},
    {"data": {"name": "u3ph"}, "mark": {"type": "rule", "color": "#000", "strokeWidth": 1.5},
     "encoding": {
      "x": {"field": "pt", "type": "quantitative", "axis": {"orient": "top", "values": [9,11,12,13,14,16,17,18,19,21,22,23,24,26,27,28,29,31,32,33,34,36,37,38,39,41,42,43,44,46,47,48,49], "tickSize": -4, "labels": false, "title": null}},
      "y": {"field": "slo", "type": "quantitative", "axis": {"orient": "right", "values": [-0.5,-0.3,-0.1,0.1,0.3,0.5], "tickSize": -4, "labels": false, "title": null}},
      "y2": {"field": "shi"}}},
    {"data": {"name": "u3ph"}, "mark": {"type": "point", "shape": "circle", "filled": true, "color": "#000", "size": 22, "opacity": 1},
     "encoding": {"x": {"field": "pt", "type": "quantitative", "axis": null}, "y": {"field": "v", "type": "quantitative", "axis": null}}},
    {"data": {"values": [{}]}, "mark": {"type": "rule", "color": "#000", "strokeWidth": 1.2, "strokeDash": [5, 4]},
     "encoding": {"y": {"datum": 0, "type": "quantitative", "axis": null}}},
    {"data": {"values": [{}]}, "mark": {"type": "text", "text": "(3S)", "align": "right", "baseline": "middle", "fontSize": 18},
     "encoding": {"x": {"datum": 48.1, "type": "quantitative", "axis": null}, "y": {"datum": 0.41, "type": "quantitative", "axis": null}}},
    {"data": {"values": [{}]}, "mark": {"type": "text", "text": "Υ", "align": "right", "baseline": "middle", "fontSize": 20, "font": "Liberation Serif", "fontWeight": "normal", "dx": -34},
     "encoding": {"x": {"datum": 48.1, "type": "quantitative", "axis": null}, "y": {"datum": 0.41, "type": "quantitative", "axis": null}}}
   ]
  },
  {
   "width": 273, "height": 174,
   "resolve": {"axis": {"x": "independent", "y": "independent"}},
   "layer": [
    {"data": {"name": "u1tp"}, "mark": {"type": "bar", "width": 13.3, "color": "#99ffff"},
     "encoding": {
      "x": {"field": "pt", "type": "quantitative", "scale": {"domain": [9, 50], "nice": false, "zero": false}, "axis": {"orient": "bottom", "values": [10,15,20,25,30,35,40,45], "tickSize": -8, "labelPadding": 15, "labelExpr": "'' + datum.value", "title": "pT [GeV]", "titleFont": "Liberation Sans", "titleFontWeight": "bold", "titleFontSize": 14, "titleAlign": "right", "titleBaseline": "middle", "titleX": 273, "titleY": 32}},
      "y": {"field": "clo", "type": "quantitative", "scale": {"domain": [-0.54, 0.55], "nice": false, "zero": false}, "axis": {"orient": "left", "values": [-0.4,-0.2,0,0.2,0.4], "tickSize": -8, "labelPadding": 13, "labelExpr": "'' + datum.value", "title": "λϑφ", "titleX": -41, "titleY": 91, "titleAlign": "left", "titleBaseline": "middle"}},
      "y2": {"field": "chi"}}},
    {"data": {"name": "u1tp"}, "mark": {"type": "bar", "width": 13.3, "color": "#ffff00"},
     "encoding": {
      "x": {"field": "pt", "type": "quantitative", "axis": {"orient": "bottom", "values": [9,11,12,13,14,16,17,18,19,21,22,23,24,26,27,28,29,31,32,33,34,36,37,38,39,41,42,43,44,46,47,48,49], "tickSize": -4, "labels": false, "title": null}},
      "y": {"field": "ylo", "type": "quantitative", "axis": {"orient": "left", "values": [-0.5,-0.3,-0.1,0.1,0.3,0.5], "tickSize": -4, "labels": false, "title": null}},
      "y2": {"field": "yhi"}}},
    {"data": {"name": "u1tp"}, "mark": {"type": "bar", "width": 13.3, "color": "#00e000"},
     "encoding": {
      "x": {"field": "pt", "type": "quantitative", "axis": {"orient": "top", "values": [10,15,20,25,30,35,40,45], "tickSize": -8, "labels": false, "title": null}},
      "y": {"field": "glo", "type": "quantitative", "axis": {"orient": "right", "values": [-0.4,-0.2,0,0.2,0.4], "tickSize": -8, "labels": false, "title": null}},
      "y2": {"field": "ghi"}}},
    {"data": {"name": "u1tp"}, "mark": {"type": "rule", "color": "#000", "strokeWidth": 1.5},
     "encoding": {
      "x": {"field": "pt", "type": "quantitative", "axis": {"orient": "top", "values": [9,11,12,13,14,16,17,18,19,21,22,23,24,26,27,28,29,31,32,33,34,36,37,38,39,41,42,43,44,46,47,48,49], "tickSize": -4, "labels": false, "title": null}},
      "y": {"field": "slo", "type": "quantitative", "axis": {"orient": "right", "values": [-0.5,-0.3,-0.1,0.1,0.3,0.5], "tickSize": -4, "labels": false, "title": null}},
      "y2": {"field": "shi"}}},
    {"data": {"name": "u1tp"}, "mark": {"type": "point", "shape": "circle", "filled": true, "color": "#000", "size": 22, "opacity": 1},
     "encoding": {"x": {"field": "pt", "type": "quantitative", "axis": null}, "y": {"field": "v", "type": "quantitative", "axis": null}}},
    {"data": {"values": [{}]}, "mark": {"type": "rule", "color": "#000", "strokeWidth": 1.2, "strokeDash": [5, 4]},
     "encoding": {"y": {"datum": 0, "type": "quantitative", "axis": null}}},
    {"data": {"values": [{}]}, "mark": {"type": "text", "text": "(1S)", "align": "right", "baseline": "middle", "fontSize": 18},
     "encoding": {"x": {"datum": 48.2, "type": "quantitative", "axis": null}, "y": {"datum": 0.41, "type": "quantitative", "axis": null}}},
    {"data": {"values": [{}]}, "mark": {"type": "text", "text": "Υ", "align": "right", "baseline": "middle", "fontSize": 20, "font": "Liberation Serif", "fontWeight": "normal", "dx": -34},
     "encoding": {"x": {"datum": 48.2, "type": "quantitative", "axis": null}, "y": {"datum": 0.41, "type": "quantitative", "axis": null}}}
   ]
  },
  {
   "width": 272, "height": 174,
   "resolve": {"axis": {"x": "independent", "y": "independent"}},
   "layer": [
    {"data": {"name": "u2tp"}, "mark": {"type": "bar", "width": 13.3, "color": "#99ffff"},
     "encoding": {
      "x": {"field": "pt", "type": "quantitative", "scale": {"domain": [9, 50], "nice": false, "zero": false}, "axis": {"orient": "bottom", "values": [10,15,20,25,30,35,40,45], "tickSize": -8, "labelPadding": 15, "labelExpr": "'' + datum.value", "title": "pT [GeV]", "titleFont": "Liberation Sans", "titleFontWeight": "bold", "titleFontSize": 14, "titleAlign": "right", "titleBaseline": "middle", "titleX": 272, "titleY": 32}},
      "y": {"field": "clo", "type": "quantitative", "scale": {"domain": [-0.54, 0.55], "nice": false, "zero": false}, "axis": {"orient": "left", "values": [-0.4,-0.2,0,0.2,0.4], "tickSize": -8, "labels": false, "title": null}},
      "y2": {"field": "chi"}}},
    {"data": {"name": "u2tp"}, "mark": {"type": "bar", "width": 13.3, "color": "#ffff00"},
     "encoding": {
      "x": {"field": "pt", "type": "quantitative", "axis": {"orient": "bottom", "values": [9,11,12,13,14,16,17,18,19,21,22,23,24,26,27,28,29,31,32,33,34,36,37,38,39,41,42,43,44,46,47,48,49], "tickSize": -4, "labels": false, "title": null}},
      "y": {"field": "ylo", "type": "quantitative", "axis": {"orient": "left", "values": [-0.5,-0.3,-0.1,0.1,0.3,0.5], "tickSize": -4, "labels": false, "title": null}},
      "y2": {"field": "yhi"}}},
    {"data": {"name": "u2tp"}, "mark": {"type": "bar", "width": 13.3, "color": "#00e000"},
     "encoding": {
      "x": {"field": "pt", "type": "quantitative", "axis": {"orient": "top", "values": [10,15,20,25,30,35,40,45], "tickSize": -8, "labels": false, "title": null}},
      "y": {"field": "glo", "type": "quantitative", "axis": {"orient": "right", "values": [-0.4,-0.2,0,0.2,0.4], "tickSize": -8, "labels": false, "title": null}},
      "y2": {"field": "ghi"}}},
    {"data": {"name": "u2tp"}, "mark": {"type": "rule", "color": "#000", "strokeWidth": 1.5},
     "encoding": {
      "x": {"field": "pt", "type": "quantitative", "axis": {"orient": "top", "values": [9,11,12,13,14,16,17,18,19,21,22,23,24,26,27,28,29,31,32,33,34,36,37,38,39,41,42,43,44,46,47,48,49], "tickSize": -4, "labels": false, "title": null}},
      "y": {"field": "slo", "type": "quantitative", "axis": {"orient": "right", "values": [-0.5,-0.3,-0.1,0.1,0.3,0.5], "tickSize": -4, "labels": false, "title": null}},
      "y2": {"field": "shi"}}},
    {"data": {"name": "u2tp"}, "mark": {"type": "point", "shape": "circle", "filled": true, "color": "#000", "size": 22, "opacity": 1},
     "encoding": {"x": {"field": "pt", "type": "quantitative", "axis": null}, "y": {"field": "v", "type": "quantitative", "axis": null}}},
    {"data": {"values": [{}]}, "mark": {"type": "rule", "color": "#000", "strokeWidth": 1.2, "strokeDash": [5, 4]},
     "encoding": {"y": {"datum": 0, "type": "quantitative", "axis": null}}},
    {"data": {"values": [{}]}, "mark": {"type": "text", "text": "(2S)", "align": "right", "baseline": "middle", "fontSize": 18},
     "encoding": {"x": {"datum": 48.2, "type": "quantitative", "axis": null}, "y": {"datum": 0.41, "type": "quantitative", "axis": null}}},
    {"data": {"values": [{}]}, "mark": {"type": "text", "text": "Υ", "align": "right", "baseline": "middle", "fontSize": 20, "font": "Liberation Serif", "fontWeight": "normal", "dx": -34},
     "encoding": {"x": {"datum": 48.2, "type": "quantitative", "axis": null}, "y": {"datum": 0.41, "type": "quantitative", "axis": null}}}
   ]
  },
  {
   "width": 273, "height": 174,
   "resolve": {"axis": {"x": "independent", "y": "independent"}},
   "layer": [
    {"data": {"name": "u3tp"}, "mark": {"type": "bar", "width": 13.3, "color": "#99ffff"},
     "encoding": {
      "x": {"field": "pt", "type": "quantitative", "scale": {"domain": [9, 50], "nice": false, "zero": false}, "axis": {"orient": "bottom", "values": [10,15,20,25,30,35,40,45], "tickSize": -8, "labelPadding": 15, "labelExpr": "'' + datum.value", "title": "pT [GeV]", "titleFont": "Liberation Sans", "titleFontWeight": "bold", "titleFontSize": 14, "titleAlign": "right", "titleBaseline": "middle", "titleX": 273, "titleY": 32}},
      "y": {"field": "clo", "type": "quantitative", "scale": {"domain": [-0.54, 0.55], "nice": false, "zero": false}, "axis": {"orient": "left", "values": [-0.4,-0.2,0,0.2,0.4], "tickSize": -8, "labels": false, "title": null}},
      "y2": {"field": "chi"}}},
    {"data": {"name": "u3tp"}, "mark": {"type": "bar", "width": 13.3, "color": "#ffff00"},
     "encoding": {
      "x": {"field": "pt", "type": "quantitative", "axis": {"orient": "bottom", "values": [9,11,12,13,14,16,17,18,19,21,22,23,24,26,27,28,29,31,32,33,34,36,37,38,39,41,42,43,44,46,47,48,49], "tickSize": -4, "labels": false, "title": null}},
      "y": {"field": "ylo", "type": "quantitative", "axis": {"orient": "left", "values": [-0.5,-0.3,-0.1,0.1,0.3,0.5], "tickSize": -4, "labels": false, "title": null}},
      "y2": {"field": "yhi"}}},
    {"data": {"name": "u3tp"}, "mark": {"type": "bar", "width": 13.3, "color": "#00e000"},
     "encoding": {
      "x": {"field": "pt", "type": "quantitative", "axis": {"orient": "top", "values": [10,15,20,25,30,35,40,45], "tickSize": -8, "labels": false, "title": null}},
      "y": {"field": "glo", "type": "quantitative", "axis": {"orient": "right", "values": [-0.4,-0.2,0,0.2,0.4], "tickSize": -8, "labels": false, "title": null}},
      "y2": {"field": "ghi"}}},
    {"data": {"name": "u3tp"}, "mark": {"type": "rule", "color": "#000", "strokeWidth": 1.5},
     "encoding": {
      "x": {"field": "pt", "type": "quantitative", "axis": {"orient": "top", "values": [9,11,12,13,14,16,17,18,19,21,22,23,24,26,27,28,29,31,32,33,34,36,37,38,39,41,42,43,44,46,47,48,49], "tickSize": -4, "labels": false, "title": null}},
      "y": {"field": "slo", "type": "quantitative", "axis": {"orient": "right", "values": [-0.5,-0.3,-0.1,0.1,0.3,0.5], "tickSize": -4, "labels": false, "title": null}},
      "y2": {"field": "shi"}}},
    {"data": {"name": "u3tp"}, "mark": {"type": "point", "shape": "circle", "filled": true, "color": "#000", "size": 22, "opacity": 1},
     "encoding": {"x": {"field": "pt", "type": "quantitative", "axis": null}, "y": {"field": "v", "type": "quantitative", "axis": null}}},
    {"data": {"values": [{}]}, "mark": {"type": "rule", "color": "#000", "strokeWidth": 1.2, "strokeDash": [5, 4]},
     "encoding": {"y": {"datum": 0, "type": "quantitative", "axis": null}}},
    {"data": {"values": [{}]}, "mark": {"type": "text", "text": "(3S)", "align": "right", "baseline": "middle", "fontSize": 18},
     "encoding": {"x": {"datum": 48.1, "type": "quantitative", "axis": null}, "y": {"datum": 0.41, "type": "quantitative", "axis": null}}},
    {"data": {"values": [{}]}, "mark": {"type": "text", "text": "Υ", "align": "right", "baseline": "middle", "fontSize": 20, "font": "Liberation Serif", "fontWeight": "normal", "dx": -34},
     "encoding": {"x": {"datum": 48.1, "type": "quantitative", "axis": null}, "y": {"datum": 0.41, "type": "quantitative", "axis": null}}}
   ]
  }
]
},
{
"columns": 2, "spacing": 0, "bounds": "flush",
"resolve": {"scale": {"fill": "independent", "stroke": "independent", "shape": "independent"}},
"concat": [
  {
   "width": 296, "height": 174,
   "resolve": {"axis": {"x": "independent", "y": "independent"}},
   "layer": [
    {"data": {"name": "jth"}, "transform": [{"filter": {"field": "b", "equal": "0-0.6"}}], "mark": {"type": "rule", "color": "#000", "strokeWidth": 1.4},
     "encoding": {
      "x": {"field": "pt", "type": "quantitative", "scale": {"domain": [11, 72], "nice": false, "zero": false}, "axis": {"orient": "bottom", "values": [20,30,40,50,60,70], "tickSize": -8, "labels": false, "title": null}},
      "y": {"field": "lo", "type": "quantitative", "scale": {"domain": [-0.98, 0.985], "nice": false, "zero": false}, "axis": {"orient": "left", "values": [-0.5,0,0.5], "tickSize": -8, "labelPadding": 13, "labelFontWeight": "normal", "labelFontSize": 13, "labelExpr": "'' + datum.value", "title": "λϑ", "titleX": -45, "titleY": 92, "titleAlign": "left", "titleBaseline": "middle"}},
      "y2": {"field": "hi"}}},
    {"data": {"name": "jth"}, "transform": [{"filter": {"field": "b", "equal": "0-0.6"}}], "mark": {"type": "point", "shape": "circle", "filled": true, "color": "#000", "size": 20, "opacity": 1},
     "encoding": {
      "x": {"field": "pt", "type": "quantitative", "axis": {"orient": "bottom", "values": [12,14,16,18,22,24,26,28,32,34,36,38,42,44,46,48,52,54,56,58,62,64,66,68], "tickSize": -4, "labels": false, "title": null}},
      "y": {"field": "v", "type": "quantitative", "axis": {"orient": "left", "values": [-0.9,-0.8,-0.7,-0.6,-0.4,-0.3,-0.2,-0.1,0.1,0.2,0.3,0.4,0.6,0.7,0.8,0.9], "tickSize": -4, "labels": false, "title": null}}}},
    {"data": {"name": "jth"}, "transform": [{"filter": {"field": "b", "equal": "0.6-1.2"}}], "mark": {"type": "rule", "color": "#0000ff", "strokeWidth": 1.4},
     "encoding": {
      "x": {"field": "pt", "type": "quantitative", "axis": {"orient": "top", "values": [20,30,40,50,60,70], "tickSize": -8, "labels": false, "title": null}},
      "y": {"field": "lo", "type": "quantitative", "axis": {"orient": "right", "values": [-0.5,0,0.5], "tickSize": -8, "labels": false, "title": null}},
      "y2": {"field": "hi"}}},
    {"data": {"name": "jth"}, "transform": [{"filter": {"field": "b", "equal": "0.6-1.2"}}], "mark": {"type": "point", "shape": "square", "filled": true, "fill": "#ffffff", "stroke": "#0000ff", "strokeWidth": 1.3, "size": 36, "opacity": 1},
     "encoding": {
      "x": {"field": "pt", "type": "quantitative", "axis": {"orient": "top", "values": [12,14,16,18,22,24,26,28,32,34,36,38,42,44,46,48,52,54,56,58,62,64,66,68], "tickSize": -4, "labels": false, "title": null}},
      "y": {"field": "v", "type": "quantitative", "axis": {"orient": "right", "values": [-0.9,-0.8,-0.7,-0.6,-0.4,-0.3,-0.2,-0.1,0.1,0.2,0.3,0.4,0.6,0.7,0.8,0.9], "tickSize": -4, "labels": false, "title": null}}}},
    {"data": {"values": [{}]}, "mark": {"type": "rule", "color": "#000", "strokeWidth": 1.1, "strokeDash": [3, 3]},
     "encoding": {"y": {"datum": 0, "type": "quantitative", "axis": null}}},
    {"data": {"values": [{}]}, "mark": {"type": "text", "text": "CMS", "align": "left", "baseline": "middle", "fontSize": 15},
     "encoding": {"x": {"datum": 15.9, "type": "quantitative", "axis": null}, "y": {"datum": 0.81, "type": "quantitative", "axis": null}}},
    {"data": {"values": [{}]}, "mark": {"type": "text", "text": "HX frame", "align": "left", "baseline": "middle", "fontSize": 15},
     "encoding": {"x": {"datum": 43.0, "type": "quantitative", "axis": null}, "y": {"datum": 0.81, "type": "quantitative", "axis": null}}}
   ]
  },
  {
   "width": 223, "height": 174,
   "resolve": {"axis": {"x": "independent", "y": "independent"}},
   "layer": [
    {"data": {"name": "pth"}, "transform": [{"filter": {"field": "b", "equal": "0-0.6"}}], "mark": {"type": "rule", "color": "#000", "strokeWidth": 1.4},
     "encoding": {
      "x": {"field": "pt", "type": "quantitative", "scale": {"domain": [11, 51], "nice": false, "zero": false}, "axis": {"orient": "bottom", "values": [20,30,40,50], "tickSize": -8, "labels": false, "title": null}},
      "y": {"field": "lo", "type": "quantitative", "scale": {"domain": [-0.98, 0.985], "nice": false, "zero": false}, "axis": {"orient": "left", "values": [-0.5,0,0.5], "tickSize": -8, "labels": false, "title": null}},
      "y2": {"field": "hi"}}},
    {"data": {"name": "pth"}, "transform": [{"filter": {"field": "b", "equal": "0-0.6"}}], "mark": {"type": "point", "shape": "circle", "filled": true, "color": "#000", "size": 20, "opacity": 1},
     "encoding": {
      "x": {"field": "pt", "type": "quantitative", "axis": {"orient": "bottom", "values": [12,14,16,18,22,24,26,28,32,34,36,38,42,44,46,48], "tickSize": -4, "labels": false, "title": null}},
      "y": {"field": "v", "type": "quantitative", "axis": {"orient": "left", "values": [-0.9,-0.8,-0.7,-0.6,-0.4,-0.3,-0.2,-0.1,0.1,0.2,0.3,0.4,0.6,0.7,0.8,0.9], "tickSize": -4, "labels": false, "title": null}}}},
    {"data": {"name": "pth"}, "transform": [{"filter": {"field": "b", "equal": "0.6-1.2"}}], "mark": {"type": "rule", "color": "#0000ff", "strokeWidth": 1.4},
     "encoding": {
      "x": {"field": "pt", "type": "quantitative", "axis": {"orient": "top", "values": [20,30,40,50], "tickSize": -8, "labels": false, "title": null}},
      "y": {"field": "lo", "type": "quantitative", "axis": {"orient": "right", "values": [-0.5,0,0.5], "tickSize": -8, "labels": false, "title": null}},
      "y2": {"field": "hi"}}},
    {"data": {"name": "pth"}, "transform": [{"filter": {"field": "b", "equal": "0.6-1.2"}}], "mark": {"type": "point", "shape": "square", "filled": true, "fill": "#ffffff", "stroke": "#0000ff", "strokeWidth": 1.3, "size": 36, "opacity": 1},
     "encoding": {
      "x": {"field": "pt", "type": "quantitative", "axis": {"orient": "top", "values": [12,14,16,18,22,24,26,28,32,34,36,38,42,44,46,48], "tickSize": -4, "labels": false, "title": null}},
      "y": {"field": "v", "type": "quantitative", "axis": {"orient": "right", "values": [-0.9,-0.8,-0.7,-0.6,-0.4,-0.3,-0.2,-0.1,0.1,0.2,0.3,0.4,0.6,0.7,0.8,0.9], "tickSize": -4, "labels": false, "title": null}}}},
    {"data": {"name": "pth"}, "transform": [{"filter": {"field": "b", "equal": "1.2-1.5"}}], "mark": {"type": "rule", "color": "#ff0000", "strokeWidth": 1.4},
     "encoding": {"x": {"field": "pt", "type": "quantitative", "axis": null}, "y": {"field": "lo", "type": "quantitative", "axis": null}, "y2": {"field": "hi"}}},
    {"data": {"name": "pth"}, "transform": [{"filter": {"field": "b", "equal": "1.2-1.5"}}], "mark": {"type": "point", "shape": "M0,-1L0.235,-0.324L0.951,-0.309L0.38,0.124L0.588,0.809L0,0.4L-0.588,0.809L-0.38,0.124L-0.951,-0.309L-0.235,-0.324Z", "filled": true, "color": "#ff0000", "size": 64, "opacity": 1},
     "encoding": {"x": {"field": "pt", "type": "quantitative", "axis": null}, "y": {"field": "v", "type": "quantitative", "axis": null}}},
    {"data": {"values": [{}]}, "mark": {"type": "rule", "color": "#000", "strokeWidth": 1.1, "strokeDash": [3, 3]},
     "encoding": {"y": {"datum": 0, "type": "quantitative", "axis": null}}}
   ]
  },
  {
   "width": 296, "height": 174,
   "resolve": {"axis": {"x": "independent", "y": "independent"}},
   "layer": [
    {"data": {"name": "jph"}, "transform": [{"filter": {"field": "b", "equal": "0-0.6"}}], "mark": {"type": "rule", "color": "#000", "strokeWidth": 1.4},
     "encoding": {
      "x": {"field": "pt", "type": "quantitative", "scale": {"domain": [11, 72], "nice": false, "zero": false}, "axis": {"orient": "bottom", "values": [20,30,40,50,60,70], "tickSize": -8, "labels": false, "title": null}},
      "y": {"field": "lo", "type": "quantitative", "scale": {"domain": [-0.33, 0.33], "nice": false, "zero": false}, "axis": {"orient": "left", "values": [-0.2,0,0.2], "tickSize": -8, "labelPadding": 13, "labelFontWeight": "normal", "labelFontSize": 13, "labelExpr": "'' + datum.value", "title": "λφ", "titleX": -45, "titleY": 92, "titleAlign": "left", "titleBaseline": "middle"}},
      "y2": {"field": "hi"}}},
    {"data": {"name": "jph"}, "transform": [{"filter": {"field": "b", "equal": "0-0.6"}}], "mark": {"type": "point", "shape": "circle", "filled": true, "color": "#000", "size": 20, "opacity": 1},
     "encoding": {
      "x": {"field": "pt", "type": "quantitative", "axis": {"orient": "bottom", "values": [12,14,16,18,22,24,26,28,32,34,36,38,42,44,46,48,52,54,56,58,62,64,66,68], "tickSize": -4, "labels": false, "title": null}},
      "y": {"field": "v", "type": "quantitative", "axis": {"orient": "left", "values": [-0.3,-0.25,-0.15,-0.1,-0.05,0.05,0.1,0.15,0.25,0.3], "tickSize": -4, "labels": false, "title": null}}}},
    {"data": {"name": "jph"}, "transform": [{"filter": {"field": "b", "equal": "0.6-1.2"}}], "mark": {"type": "rule", "color": "#0000ff", "strokeWidth": 1.4},
     "encoding": {
      "x": {"field": "pt", "type": "quantitative", "axis": {"orient": "top", "values": [20,30,40,50,60,70], "tickSize": -8, "labels": false, "title": null}},
      "y": {"field": "lo", "type": "quantitative", "axis": {"orient": "right", "values": [-0.2,0,0.2], "tickSize": -8, "labels": false, "title": null}},
      "y2": {"field": "hi"}}},
    {"data": {"name": "jph"}, "transform": [{"filter": {"field": "b", "equal": "0.6-1.2"}}], "mark": {"type": "point", "shape": "square", "filled": true, "fill": "#ffffff", "stroke": "#0000ff", "strokeWidth": 1.3, "size": 36, "opacity": 1},
     "encoding": {
      "x": {"field": "pt", "type": "quantitative", "axis": {"orient": "top", "values": [12,14,16,18,22,24,26,28,32,34,36,38,42,44,46,48,52,54,56,58,62,64,66,68], "tickSize": -4, "labels": false, "title": null}},
      "y": {"field": "v", "type": "quantitative", "axis": {"orient": "right", "values": [-0.3,-0.25,-0.15,-0.1,-0.05,0.05,0.1,0.15,0.25,0.3], "tickSize": -4, "labels": false, "title": null}}}},
    {"data": {"values": [{}]}, "mark": {"type": "rule", "color": "#000", "strokeWidth": 1.1, "strokeDash": [3, 3]},
     "encoding": {"y": {"datum": 0, "type": "quantitative", "axis": null}}},
    {"data": {"values": [{}]}, "mark": {"type": "text", "text": "pp", "align": "left", "baseline": "middle", "fontSize": 15},
     "encoding": {"x": {"datum": 16.7, "type": "quantitative", "axis": null}, "y": {"datum": 0.251, "type": "quantitative", "axis": null}}},
    {"data": {"values": [{}]}, "mark": {"type": "text", "text": "√s = 7 TeV", "align": "left", "baseline": "middle", "fontSize": 15},
     "encoding": {"x": {"datum": 23.9, "type": "quantitative", "axis": null}, "y": {"datum": 0.251, "type": "quantitative", "axis": null}}},
    {"data": {"values": [{}]}, "mark": {"type": "text", "text": "L = 4.9 fb⁻¹", "align": "left", "baseline": "middle", "fontSize": 15},
     "encoding": {"x": {"datum": 42.2, "type": "quantitative", "axis": null}, "y": {"datum": 0.251, "type": "quantitative", "axis": null}}},
    {"data": {"values": [{}]}, "mark": {"type": "text", "text": "J/ψ", "align": "right", "baseline": "middle", "fontSize": 18},
     "encoding": {"x": {"datum": 67.4, "type": "quantitative", "axis": null}, "y": {"datum": -0.284, "type": "quantitative", "axis": null}}}
   ]
  },
  {
   "width": 223, "height": 174,
   "resolve": {"axis": {"x": "independent", "y": "independent"}},
   "layer": [
    {"data": {"name": "pph"}, "transform": [{"filter": {"field": "b", "equal": "0-0.6"}}], "mark": {"type": "rule", "color": "#000", "strokeWidth": 1.4},
     "encoding": {
      "x": {"field": "pt", "type": "quantitative", "scale": {"domain": [11, 51], "nice": false, "zero": false}, "axis": {"orient": "bottom", "values": [20,30,40,50], "tickSize": -8, "labels": false, "title": null}},
      "y": {"field": "lo", "type": "quantitative", "scale": {"domain": [-0.33, 0.33], "nice": false, "zero": false}, "axis": {"orient": "left", "values": [-0.2,0,0.2], "tickSize": -8, "labels": false, "title": null}},
      "y2": {"field": "hi"}}},
    {"data": {"name": "pph"}, "transform": [{"filter": {"field": "b", "equal": "0-0.6"}}], "mark": {"type": "point", "shape": "circle", "filled": true, "color": "#000", "size": 20, "opacity": 1},
     "encoding": {
      "x": {"field": "pt", "type": "quantitative", "axis": {"orient": "bottom", "values": [12,14,16,18,22,24,26,28,32,34,36,38,42,44,46,48], "tickSize": -4, "labels": false, "title": null}},
      "y": {"field": "v", "type": "quantitative", "axis": {"orient": "left", "values": [-0.3,-0.25,-0.15,-0.1,-0.05,0.05,0.1,0.15,0.25,0.3], "tickSize": -4, "labels": false, "title": null}}}},
    {"data": {"name": "pph"}, "transform": [{"filter": {"field": "b", "equal": "0.6-1.2"}}], "mark": {"type": "rule", "color": "#0000ff", "strokeWidth": 1.4},
     "encoding": {
      "x": {"field": "pt", "type": "quantitative", "axis": {"orient": "top", "values": [20,30,40,50], "tickSize": -8, "labels": false, "title": null}},
      "y": {"field": "lo", "type": "quantitative", "axis": {"orient": "right", "values": [-0.2,0,0.2], "tickSize": -8, "labels": false, "title": null}},
      "y2": {"field": "hi"}}},
    {"data": {"name": "pph"}, "transform": [{"filter": {"field": "b", "equal": "0.6-1.2"}}], "mark": {"type": "point", "shape": "square", "filled": true, "fill": "#ffffff", "stroke": "#0000ff", "strokeWidth": 1.3, "size": 36, "opacity": 1},
     "encoding": {
      "x": {"field": "pt", "type": "quantitative", "axis": {"orient": "top", "values": [12,14,16,18,22,24,26,28,32,34,36,38,42,44,46,48], "tickSize": -4, "labels": false, "title": null}},
      "y": {"field": "v", "type": "quantitative", "axis": {"orient": "right", "values": [-0.3,-0.25,-0.15,-0.1,-0.05,0.05,0.1,0.15,0.25,0.3], "tickSize": -4, "labels": false, "title": null}}}},
    {"data": {"name": "pph"}, "transform": [{"filter": {"field": "b", "equal": "1.2-1.5"}}], "mark": {"type": "rule", "color": "#ff0000", "strokeWidth": 1.4},
     "encoding": {"x": {"field": "pt", "type": "quantitative", "axis": null}, "y": {"field": "lo", "type": "quantitative", "axis": null}, "y2": {"field": "hi"}}},
    {"data": {"name": "pph"}, "transform": [{"filter": {"field": "b", "equal": "1.2-1.5"}}], "mark": {"type": "point", "shape": "M0,-1L0.235,-0.324L0.951,-0.309L0.38,0.124L0.588,0.809L0,0.4L-0.588,0.809L-0.38,0.124L-0.951,-0.309L-0.235,-0.324Z", "filled": true, "color": "#ff0000", "size": 64, "opacity": 1},
     "encoding": {"x": {"field": "pt", "type": "quantitative", "axis": null}, "y": {"field": "v", "type": "quantitative", "axis": null}}},
    {"data": {"values": [{}]}, "mark": {"type": "rule", "color": "#000", "strokeWidth": 1.1, "strokeDash": [3, 3]},
     "encoding": {"y": {"datum": 0, "type": "quantitative", "axis": null}}},
    {"data": {"values": [{}]}, "mark": {"type": "text", "text": "ψ(2S)", "align": "right", "baseline": "middle", "fontSize": 18},
     "encoding": {"x": {"datum": 46.8, "type": "quantitative", "axis": null}, "y": {"datum": -0.284, "type": "quantitative", "axis": null}}}
   ]
  },
  {
   "width": 296, "height": 175,
   "resolve": {"axis": {"x": "independent", "y": "independent"}},
   "layer": [
    {"data": {"name": "jtp"}, "transform": [{"filter": {"field": "b", "equal": "0-0.6"}}], "mark": {"type": "rule", "color": "#000", "strokeWidth": 1.4},
     "encoding": {
      "x": {"field": "pt", "type": "quantitative", "scale": {"domain": [11, 72], "nice": false, "zero": false}, "axis": {"orient": "bottom", "values": [20,30,40,50,60,70], "tickSize": -8, "labelPadding": 16, "labelExpr": "'' + datum.value", "title": "pT [GeV]", "titleFont": "Liberation Sans", "titleFontWeight": "bold", "titleFontSize": 16, "titleAlign": "right", "titleBaseline": "middle", "titleX": 338.5, "titleY": 28}},
      "y": {"field": "lo", "type": "quantitative", "scale": {"domain": [-0.33, 0.335], "nice": false, "zero": false}, "axis": {"orient": "left", "values": [-0.2,0,0.2], "tickSize": -8, "labelPadding": 13, "labelFontWeight": "normal", "labelFontSize": 13, "labelExpr": "'' + datum.value", "title": "λϑφ", "titleX": -45, "titleY": 92, "titleAlign": "left", "titleBaseline": "middle"}},
      "y2": {"field": "hi"}}},
    {"data": {"name": "jtp"}, "transform": [{"filter": {"field": "b", "equal": "0-0.6"}}], "mark": {"type": "point", "shape": "circle", "filled": true, "color": "#000", "size": 20, "opacity": 1},
     "encoding": {
      "x": {"field": "pt", "type": "quantitative", "axis": {"orient": "bottom", "values": [12,14,16,18,22,24,26,28,32,34,36,38,42,44,46,48,52,54,56,58,62,64,66,68], "tickSize": -4, "labels": false, "title": null}},
      "y": {"field": "v", "type": "quantitative", "axis": {"orient": "left", "values": [-0.3,-0.25,-0.15,-0.1,-0.05,0.05,0.1,0.15,0.25,0.3], "tickSize": -4, "labels": false, "title": null}}}},
    {"data": {"name": "jtp"}, "transform": [{"filter": {"field": "b", "equal": "0.6-1.2"}}], "mark": {"type": "rule", "color": "#0000ff", "strokeWidth": 1.4},
     "encoding": {
      "x": {"field": "pt", "type": "quantitative", "axis": {"orient": "top", "values": [20,30,40,50,60,70], "tickSize": -8, "labels": false, "title": null}},
      "y": {"field": "lo", "type": "quantitative", "axis": {"orient": "right", "values": [-0.2,0,0.2], "tickSize": -8, "labels": false, "title": null}},
      "y2": {"field": "hi"}}},
    {"data": {"name": "jtp"}, "transform": [{"filter": {"field": "b", "equal": "0.6-1.2"}}], "mark": {"type": "point", "shape": "square", "filled": true, "fill": "#ffffff", "stroke": "#0000ff", "strokeWidth": 1.3, "size": 36, "opacity": 1},
     "encoding": {
      "x": {"field": "pt", "type": "quantitative", "axis": {"orient": "top", "values": [12,14,16,18,22,24,26,28,32,34,36,38,42,44,46,48,52,54,56,58,62,64,66,68], "tickSize": -4, "labels": false, "title": null}},
      "y": {"field": "v", "type": "quantitative", "axis": {"orient": "right", "values": [-0.3,-0.25,-0.15,-0.1,-0.05,0.05,0.1,0.15,0.25,0.3], "tickSize": -4, "labels": false, "title": null}}}},
    {"data": {"values": [{}]}, "mark": {"type": "rule", "color": "#000", "strokeWidth": 1.1, "strokeDash": [3, 3]},
     "encoding": {"y": {"datum": 0, "type": "quantitative", "axis": null}}},
    {"data": {"values": []}, "mark": {"type": "point", "filled": true, "opacity": 1},
     "encoding": {
      "fill": {"field": "bin", "type": "nominal",
        "scale": {"domain": ["|y| < 0.6", "0.6 < |y| < 1.2", "1.2 < |y| < 1.5"], "range": ["#000000", "#ffffff", "#ff0000"]},
        "legend": {"orient": "none", "legendX": 176.3, "legendY": 117.5, "title": null, "symbolSize": 64, "symbolStrokeWidth": 1.3, "labelOffset": 1.5, "labelFont": "Liberation Sans", "labelFontWeight": "normal", "labelFontSize": 14, "labelColor": "#000", "rowPadding": 4.7, "padding": 0, "labelLimit": 300, "symbolOpacity": 1}},
      "stroke": {"field": "bin", "type": "nominal",
        "scale": {"domain": ["|y| < 0.6", "0.6 < |y| < 1.2", "1.2 < |y| < 1.5"], "range": ["#000000", "#0000ff", "#ff0000"]},
        "legend": {"orient": "none", "legendX": 176.3, "legendY": 117.5, "title": null, "symbolSize": 64, "symbolStrokeWidth": 1.3, "labelOffset": 1.5, "labelFont": "Liberation Sans", "labelFontWeight": "normal", "labelFontSize": 14, "labelColor": "#000", "rowPadding": 4.7, "padding": 0, "labelLimit": 300, "symbolOpacity": 1}},
      "shape": {"field": "bin", "type": "nominal",
        "scale": {"domain": ["|y| < 0.6", "0.6 < |y| < 1.2", "1.2 < |y| < 1.5"], "range": ["M-1.5,0H1.5M0.55,0A0.55,0.55,0,1,1,-0.55,0A0.55,0.55,0,1,1,0.55,0Z", "M-1.5,0H-0.8M0.8,0H1.5M-0.8,-0.8H0.8V0.8H-0.8Z", "M-1.5,0H1.5M0,-1L0.235,-0.324L0.951,-0.309L0.38,0.124L0.588,0.809L0,0.4L-0.588,0.809L-0.38,0.124L-0.951,-0.309L-0.235,-0.324Z"]},
        "legend": {"orient": "none", "legendX": 176.3, "legendY": 117.5, "title": null, "symbolSize": 64, "symbolStrokeWidth": 1.3, "labelOffset": 1.5, "labelFont": "Liberation Sans", "labelFontWeight": "normal", "labelFontSize": 14, "labelColor": "#000", "rowPadding": 4.7, "padding": 0, "labelLimit": 300, "symbolOpacity": 1}}
     }}
   ]
  },
  {
   "width": 223, "height": 175,
   "resolve": {"axis": {"x": "independent", "y": "independent"}},
   "layer": [
    {"data": {"name": "ptp"}, "transform": [{"filter": {"field": "b", "equal": "0-0.6"}}], "mark": {"type": "rule", "color": "#000", "strokeWidth": 1.4},
     "encoding": {
      "x": {"field": "pt", "type": "quantitative", "scale": {"domain": [11, 51], "nice": false, "zero": false}, "axis": {"orient": "bottom", "values": [20,30,40,50], "tickSize": -8, "labelPadding": 16, "labelExpr": "'' + datum.value", "title": null}},
      "y": {"field": "lo", "type": "quantitative", "scale": {"domain": [-0.33, 0.335], "nice": false, "zero": false}, "axis": {"orient": "left", "values": [-0.2,0,0.2], "tickSize": -8, "labels": false, "title": null}},
      "y2": {"field": "hi"}}},
    {"data": {"name": "ptp"}, "transform": [{"filter": {"field": "b", "equal": "0-0.6"}}], "mark": {"type": "point", "shape": "circle", "filled": true, "color": "#000", "size": 20, "opacity": 1},
     "encoding": {
      "x": {"field": "pt", "type": "quantitative", "axis": {"orient": "bottom", "values": [12,14,16,18,22,24,26,28,32,34,36,38,42,44,46,48], "tickSize": -4, "labels": false, "title": null}},
      "y": {"field": "v", "type": "quantitative", "axis": {"orient": "left", "values": [-0.3,-0.25,-0.15,-0.1,-0.05,0.05,0.1,0.15,0.25,0.3], "tickSize": -4, "labels": false, "title": null}}}},
    {"data": {"name": "ptp"}, "transform": [{"filter": {"field": "b", "equal": "0.6-1.2"}}], "mark": {"type": "rule", "color": "#0000ff", "strokeWidth": 1.4},
     "encoding": {
      "x": {"field": "pt", "type": "quantitative", "axis": {"orient": "top", "values": [20,30,40,50], "tickSize": -8, "labels": false, "title": null}},
      "y": {"field": "lo", "type": "quantitative", "axis": {"orient": "right", "values": [-0.2,0,0.2], "tickSize": -8, "labels": false, "title": null}},
      "y2": {"field": "hi"}}},
    {"data": {"name": "ptp"}, "transform": [{"filter": {"field": "b", "equal": "0.6-1.2"}}], "mark": {"type": "point", "shape": "square", "filled": true, "fill": "#ffffff", "stroke": "#0000ff", "strokeWidth": 1.3, "size": 36, "opacity": 1},
     "encoding": {
      "x": {"field": "pt", "type": "quantitative", "axis": {"orient": "top", "values": [12,14,16,18,22,24,26,28,32,34,36,38,42,44,46,48], "tickSize": -4, "labels": false, "title": null}},
      "y": {"field": "v", "type": "quantitative", "axis": {"orient": "right", "values": [-0.3,-0.25,-0.15,-0.1,-0.05,0.05,0.1,0.15,0.25,0.3], "tickSize": -4, "labels": false, "title": null}}}},
    {"data": {"name": "ptp"}, "transform": [{"filter": {"field": "b", "equal": "1.2-1.5"}}], "mark": {"type": "rule", "color": "#ff0000", "strokeWidth": 1.4},
     "encoding": {"x": {"field": "pt", "type": "quantitative", "axis": null}, "y": {"field": "lo", "type": "quantitative", "axis": null}, "y2": {"field": "hi"}}},
    {"data": {"name": "ptp"}, "transform": [{"filter": {"field": "b", "equal": "1.2-1.5"}}], "mark": {"type": "point", "shape": "M0,-1L0.235,-0.324L0.951,-0.309L0.38,0.124L0.588,0.809L0,0.4L-0.588,0.809L-0.38,0.124L-0.951,-0.309L-0.235,-0.324Z", "filled": true, "color": "#ff0000", "size": 64, "opacity": 1},
     "encoding": {"x": {"field": "pt", "type": "quantitative", "axis": null}, "y": {"field": "v", "type": "quantitative", "axis": null}}},
    {"data": {"values": [{}]}, "mark": {"type": "rule", "color": "#000", "strokeWidth": 1.1, "strokeDash": [3, 3]},
     "encoding": {"y": {"datum": 0, "type": "quantitative", "axis": null}}}
   ]
  }
]
}
]
}
